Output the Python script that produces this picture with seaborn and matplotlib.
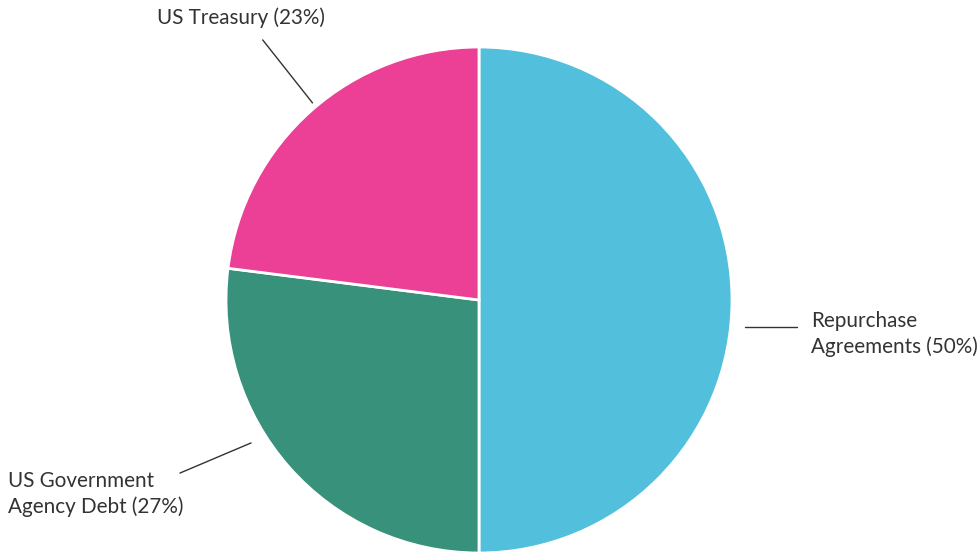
import matplotlib
matplotlib.use("Agg")
import matplotlib.pyplot as plt
import seaborn as sns

labels = ['Repurchase\nAgreements (50%)', 'US Government\nAgency Debt (27%)', 'US Treasury (23%)']
shares = [50, 27, 23]
colors = ['#52C0DC', '#38917A', '#EC3F96']
# leader lines (start, end) and text anchors, in pie-radius units
leader_start = [(1.051, -0.107), (-0.901, -0.565), (-0.658, 0.779)]
leader_end = [(1.257, -0.107), (-1.182, -0.684), (-0.855, 1.028)]
text_pos = [(1.312, -0.134), (-1.862, -0.767), (-1.273, 1.115)]

sns.set_theme(style="white")
plt.rcParams['font.family'] = ['Lato', 'DejaVu Sans']

fig = plt.figure(figsize=(9.8, 5.56), dpi=100)
cx, cy, r = 479, 300, 253
ax = fig.add_axes([(cx - r) / 980, (556 - cy - r) / 556, 2 * r / 980, 2 * r / 556])
ax.pie(shares, colors=colors, startangle=90, counterclock=False,
       wedgeprops=dict(edgecolor='white', linewidth=2))
ax.set_xlim(-1, 1)
ax.set_ylim(-1, 1)
ax.set_aspect('equal')
ax.axis('off')

for lab, (x0, y0), (x1, y1), (tx, ty) in zip(labels, leader_start, leader_end, text_pos):
    ax.plot([x0, x1], [y0, y1], color='#333333', lw=1, clip_on=False)
    ax.text(tx, ty, lab, ha='left', va='center', fontsize=14.9, color='#333333',
            linespacing=1.3, clip_on=False)

fig.savefig('out.png', dpi=100)
